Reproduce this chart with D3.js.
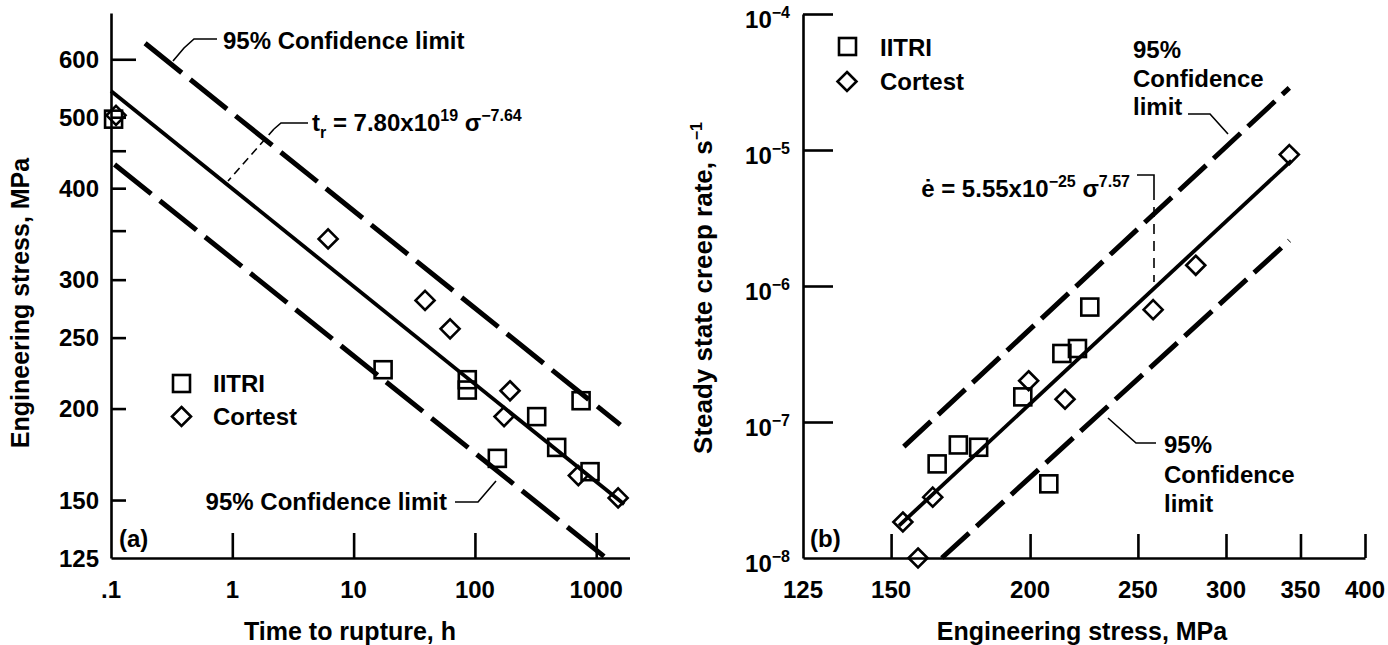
<!DOCTYPE html>
<html>
<head>
<meta charset="utf-8">
<script src="https://cdn.jsdelivr.net/npm/d3@7"></script>
<style>
  html, body { margin: 0; padding: 0; background: #fff; }
  svg { display: block; }
  text { font-family: 'Liberation Sans', Arial, Helvetica, sans-serif; font-weight: bold; fill: #000; }
</style>
</head>
<body>
<svg id="chart" width="1388" height="645"></svg>
<script>
// ---------------- DATA ----------------
// Panel (a): time to rupture (h) vs engineering stress (MPa)
const aTicksY   = [600, 500, 450, 400, 350, 300, 250, 200, 150];
const aLabelsY  = [600, 500, 400, 300, 250, 200, 150, 125];
const aTicksX   = [1, 10, 100, 1000];
const aLabelsX  = [0.1, 1, 10, 100, 1000];
const aLabelsXText = [".1", "1", "10", "100", "1000"];

const aIitriTime     = [0.105, 17.5, 86.5, 86.5, 153, 323, 472, 750, 889];
const aIitriStress   = [497,   226,  219,  212,  171, 195, 177, 205, 164];
const aCortestTime   = [0.11, 6.16, 38.8, 62.4, 194.6, 173.8, 712, 1515];
const aCortestStress = [503,  341,  281,  257,  211.5, 195,   162, 151];

const aFitTime     = [0.1, 1700];   // t_r = 7.80x10^19 σ^-7.64
const aFitStress   = [543, 148];
const aUpperTime   = [0.191, 1580];
const aUpperStress = [631, 190];
const aLowerTime   = [0.107, 1205];
const aLowerStress = [431, 125];

// Panel (b): engineering stress (MPa) vs steady state creep rate (1/s)
const bTicksY  = [1e-4, 1e-5, 1e-6, 1e-7];
const bLabelsY = [1e-4, 1e-5, 1e-6, 1e-7, 1e-8];
const bLabelsYExp = ["−4", "−5", "−6", "−7", "−8"];
const bTicksX  = [150, 200, 250, 300, 350, 400];
const bLabelsX = [125, 150, 200, 250, 300, 350, 400];

const bIitriStress   = [226.3, 213.6, 220.6, 197, 172.4, 179.8, 165, 207.9];
const bIitriRate     = [7.0e-7, 3.19e-7, 3.47e-7, 1.53e-7, 6.78e-8, 6.52e-8, 4.92e-8, 3.51e-8];
const bCortestStress = [342, 281.8, 258, 199.4, 215, 163.5, 153.7, 158.6];
const bCortestRate   = [9.25e-6, 1.42e-6, 6.7e-7, 2.01e-7, 1.47e-7, 2.8e-8, 1.84e-8, 1.0e-8];

const bFitStress   = [152.5, 343.5];   // ė = 5.55x10^-25 σ^7.57
const bFitRate     = [1.73e-8, 8.36e-6];
const bUpperStress = [154, 342];
const bUpperRate   = [6.59e-8, 2.86e-5];
const bLowerStress = [166.6, 342];
const bLowerRate   = [1.0e-8, 2.16e-6];

// ---------------- DRAWING ----------------
const svg = d3.select("#chart");

const xA = d3.scaleLog().domain([0.1, 1880]).range([111, 629.5]);
const yA = d3.scaleLog().domain([125, 694]).range([558, 13]);
const xB = d3.scaleLog().domain([125, 400]).range([803, 1365]);
const yB = d3.scaleLog().domain([1e-8, 1e-4]).range([558, 14]);

const FS = 24;

function styleAxis(g) {
  g.select(".domain").attr("stroke", "#000").attr("stroke-width", 2.6);
  g.selectAll(".tick line").attr("stroke", "#000").attr("stroke-width", 2.6);
  g.selectAll(".tick text").remove();
}

function rich(g, x, y, parts, anchor, size) {
  const t = g.append("text").attr("x", x).attr("y", y)
    .attr("text-anchor", anchor || "start").attr("font-size", size || FS);
  let shift = 0;
  parts.forEach(p => {
    const target = p.sup ? -10 : (p.sub ? 7 : 0);
    t.append("tspan").attr("dy", target - shift)
      .attr("font-size", (p.sup || p.sub) ? 16 : (size || FS))
      .text(p.t);
    shift = target;
  });
  return t;
}

function drawLine(g, xs, ys, sx, sy, dashed) {
  const pts = xs.map((v, i) => [sx(v), sy(ys[i])]);
  g.append("path").attr("d", d3.line()(pts))
    .attr("fill", "none").attr("stroke", "#000")
    .attr("stroke-width", dashed ? 5 : 3.8)
    .attr("stroke-dasharray", dashed || null);
}

function squares(g, xs, ys, sx, sy) {
  g.selectAll(null).data(xs.map((v, i) => [v, ys[i]])).join("rect")
    .attr("x", d => sx(d[0]) - 8.5).attr("y", d => sy(d[1]) - 8.5)
    .attr("width", 17).attr("height", 17)
    .attr("fill", "none").attr("stroke", "#000").attr("stroke-width", 2.6);
}
function diamonds(g, xs, ys, sx, sy) {
  g.selectAll(null).data(xs.map((v, i) => [v, ys[i]])).join("path")
    .attr("d", d => { const x = sx(d[0]), y = sy(d[1]), r = 9.5;
      return `M${x},${y - r}L${x + r},${y}L${x},${y + r}L${x - r},${y}Z`; })
    .attr("fill", "none").attr("stroke", "#000").attr("stroke-width", 2.6);
}
function leader(g, pts, dash) {
  g.append("path").attr("d", d3.line()(pts)).attr("fill", "none")
    .attr("stroke", "#000").attr("stroke-width", 1.6)
    .attr("stroke-dasharray", dash || null);
}

// ===== Panel (a) =====
const gA = svg.append("g");
const axYA = gA.append("g").attr("transform", "translate(111,0)")
  .call(d3.axisRight(yA).tickValues(aTicksY).tickSize(15).tickSizeOuter(0));
styleAxis(axYA);
axYA.selectAll(".tick").filter(d => d === 600).select("line").attr("x2", 25);
const axXA = gA.append("g").attr("transform", "translate(0,558)")
  .call(d3.axisTop(xA).tickValues(aTicksX).tickSize(25).tickSizeOuter(0));
styleAxis(axXA);

gA.selectAll(null).data(aLabelsY).join("text")
  .attr("x", 99).attr("y", d => yA(d) + 8.5).attr("text-anchor", "end")
  .attr("font-size", FS).text(d => d);
gA.selectAll(null).data(aLabelsX).join("text")
  .attr("x", d => xA(d)).attr("y", 598).attr("text-anchor", "middle")
  .attr("font-size", FS).text((d, i) => aLabelsXText[i]);

gA.append("text").attr("transform", "translate(29,303) rotate(-90)")
  .attr("text-anchor", "middle").attr("font-size", 25).text("Engineering stress, MPa");
gA.append("text").attr("x", 350).attr("y", 640).attr("text-anchor", "middle")
  .attr("font-size", 25).text("Time to rupture, h");
gA.append("text").attr("x", 119).attr("y", 547).attr("font-size", FS).text("(a)");

drawLine(gA, aUpperTime, aUpperStress, xA, yA, "47 11");
drawLine(gA, aFitTime, aFitStress, xA, yA, null);
drawLine(gA, aLowerTime, aLowerStress, xA, yA, "47 11");
squares(gA, aIitriTime, aIitriStress, xA, yA);
diamonds(gA, aCortestTime, aCortestStress, xA, yA);

// legend (a)
gA.append("rect").attr("x", 173).attr("y", 375).attr("width", 17).attr("height", 17)
  .attr("fill", "none").attr("stroke", "#000").attr("stroke-width", 2.6);
gA.append("path").attr("d", "M181.5,407L191,416.5L181.5,426L172,416.5Z")
  .attr("fill", "none").attr("stroke", "#000").attr("stroke-width", 2.6);
gA.append("text").attr("x", 213).attr("y", 392).attr("font-size", FS).text("IITRI");
gA.append("text").attr("x", 213).attr("y", 425).attr("font-size", FS).text("Cortest");

// annotations (a)
gA.append("text").attr("x", 223).attr("y", 49).attr("font-size", FS).text("95% Confidence limit");
leader(gA, [[217, 39], [194, 39], [184, 48], [173, 61]]);
rich(gA, 312, 131, [{t: "t"}, {t: "r", sub: true}, {t: " = 7.80x10"}, {t: "19", sup: true},
  {t: " σ"}, {t: "−7.64", sup: true}]);
leader(gA, [[308, 123], [281, 123], [274, 129]]);
leader(gA, [[274, 129], [228, 181]], "8 5");
gA.append("text").attr("x", 447).attr("y", 510).attr("text-anchor", "end")
  .attr("font-size", FS).text("95% Confidence limit");
leader(gA, [[455, 502], [478, 502], [496, 481]]);

// ===== Panel (b) =====
const gB = svg.append("g");
const axYB = gB.append("g").attr("transform", "translate(803,0)")
  .call(d3.axisRight(yB).tickValues(bTicksY).tickSize(30).tickSizeOuter(0));
styleAxis(axYB);
const axXB = gB.append("g").attr("transform", "translate(0,558)")
  .call(d3.axisTop(xB).tickValues(bTicksX).tickSize(24).tickSizeOuter(0));
styleAxis(axXB);

bLabelsY.forEach((v, i) => {
  rich(gB, 790, yB(v) + 14, [{t: "10"}, {t: bLabelsYExp[i], sup: true}], "end");
});
gB.selectAll(null).data(bLabelsX).join("text")
  .attr("x", d => xB(d)).attr("y", 598).attr("text-anchor", "middle")
  .attr("font-size", FS).text(d => d);

rich(gB, 0, 0, [{t: "Steady state creep rate, s"}, {t: "−1", sup: true}], "middle", 26)
  .attr("transform", "translate(712,288) rotate(-90)");
gB.append("text").attr("x", 1082).attr("y", 640).attr("text-anchor", "middle")
  .attr("font-size", 25).text("Engineering stress, MPa");
gB.append("text").attr("x", 810).attr("y", 547).attr("font-size", FS).text("(b)");

drawLine(gB, bUpperStress, bUpperRate, xB, yB, "37 10");
drawLine(gB, bFitStress, bFitRate, xB, yB, null);
drawLine(gB, bLowerStress, bLowerRate, xB, yB, "37 10");
squares(gB, bIitriStress, bIitriRate, xB, yB);
diamonds(gB, bCortestStress, bCortestRate, xB, yB);

// legend (b)
gB.append("rect").attr("x", 839).attr("y", 38).attr("width", 17).attr("height", 17)
  .attr("fill", "none").attr("stroke", "#000").attr("stroke-width", 2.6);
gB.append("path").attr("d", "M847,72L856.5,81.5L847,91L837.5,81.5Z")
  .attr("fill", "none").attr("stroke", "#000").attr("stroke-width", 2.6);
gB.append("text").attr("x", 880).attr("y", 56).attr("font-size", FS).text("IITRI");
gB.append("text").attr("x", 880).attr("y", 90).attr("font-size", FS).text("Cortest");

// annotations (b)
[["95%", 58], ["Confidence", 87], ["limit", 115]].forEach(([s, y]) =>
  gB.append("text").attr("x", 1133).attr("y", y).attr("font-size", FS).text(s));
leader(gB, [[1188, 114], [1210, 114], [1228, 134]]);

rich(gB, 1130, 197, [{t: "ė = 5.55x10"}, {t: "−25", sup: true}, {t: " σ"}, {t: "7.57", sup: true}], "end");
leader(gB, [[1137, 175], [1154, 175], [1154, 190]]);
leader(gB, [[1154, 190], [1154, 282]], "10 7");

[["95%", 453], ["Confidence", 483], ["limit", 512]].forEach(([s, y]) =>
  gB.append("text").attr("x", 1164).attr("y", y).attr("font-size", FS).text(s));
leader(gB, [[1156, 443], [1136, 443], [1108, 418]]);
</script>
</body>
</html>
